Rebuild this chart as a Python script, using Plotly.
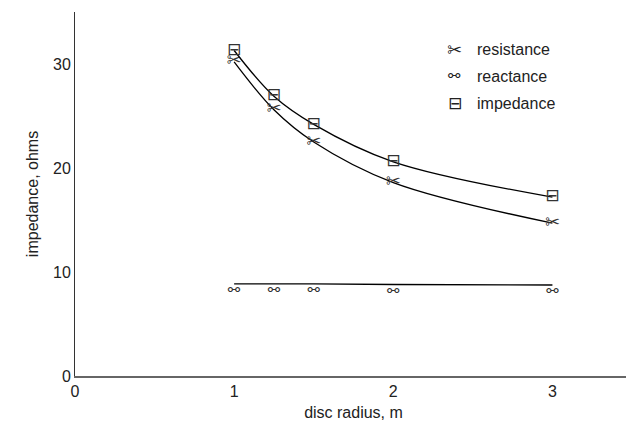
import plotly.graph_objects as go

radius = [1.0, 1.25, 1.5, 2.0, 3.0]
resistance = [30.2, 25.6, 22.5, 18.6, 14.7]
reactance = [8.85, 8.85, 8.85, 8.8, 8.75]
impedance = [31.3, 26.9, 24.2, 20.6, 17.2]

series = [
    ("resistance", resistance, "✂", "middle center", 18),
    ("reactance", reactance, "⚯", "bottom center", 15),
    ("impedance", impedance, "⊟", "middle center", 17),
]

fig = go.Figure()
for name, ys, glyph, pos, size in series:
    fig.add_trace(go.Scatter(
        x=radius, y=ys, mode="lines+text", name=name,
        line=dict(color="black", width=1.3, shape="spline"),
        text=[glyph] * len(radius), textposition=pos,
        textfont=dict(family="DejaVu Sans", size=size, color="#333"),
        showlegend=False, hoverinfo="skip",
    ))

# manual legend
for i, (name, ys, glyph, pos, size) in enumerate(series):
    yy = 0.896 - i * 0.073
    fig.add_annotation(xref="paper", yref="paper", x=0.682, y=yy, text=glyph,
                       xanchor="center", yanchor="middle",
                       showarrow=False, font=dict(family="DejaVu Sans", size=size, color="#222"))
    fig.add_annotation(xref="paper", yref="paper", x=0.718, y=yy, text=name,
                       xanchor="left", yanchor="middle",
                       showarrow=False, font=dict(family="Liberation Sans", size=16, color="#222"))

fig.update_layout(
    width=634, height=434,
    margin=dict(l=67, r=10, t=4, b=66, autoexpand=False),
    plot_bgcolor="white", paper_bgcolor="white",
    font=dict(family="Liberation Sans, Arial, sans-serif", size=16, color="#222"),
    xaxis=dict(range=[0, 3.5], tickvals=[0, 1, 2, 3], showgrid=False, zeroline=False,
               showline=True, linecolor="#666", linewidth=1.5, ticks="", automargin=False,
               title=dict(text="disc radius, m", font=dict(size=16), standoff=8)),
    yaxis=dict(range=[0, 35], tickvals=[0, 10, 20, 30], showgrid=False, zeroline=False,
               showline=True, linecolor="#333", linewidth=1, ticks="", automargin=False,
               title=dict(text="impedance, ohms", font=dict(size=16), standoff=10)),
)
fig.write_html("out.html")
